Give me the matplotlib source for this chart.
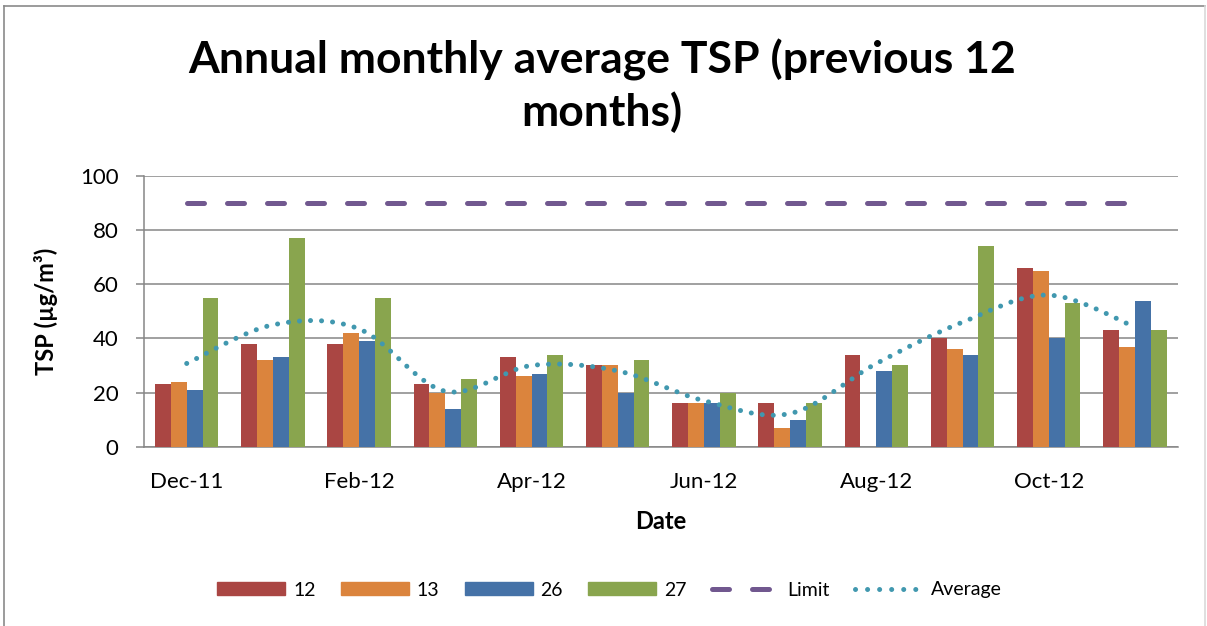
import matplotlib
matplotlib.use("Agg")
import matplotlib.pyplot as plt
import numpy as np
from matplotlib.path import Path
from matplotlib.patches import PathPatch, Patch
from matplotlib.lines import Line2D

# data
months = ['Dec-11', 'Jan-12', 'Feb-12', 'Mar-12', 'Apr-12', 'May-12',
          'Jun-12', 'Jul-12', 'Aug-12', 'Sep-12', 'Oct-12', 'Nov-12']
site_12 = [23, 38, 38, 23, 33, 30, 16, 16, 34, 40, 66, 43]
site_13 = [24, 32, 42, 20, 26, 30, 16, 7, 0, 36, 65, 37]
site_26 = [21, 33, 39, 14, 27, 20, 16, 10, 28, 34, 40, 54]
site_27 = [55, 77, 55, 25, 34, 32, 20, 16, 30, 74, 53, 43]
limit = [90] * 12
average = [30.75, 45, 43.5, 20.5, 30, 28, 17, 12.25, 30.7, 46, 56, 44.25]

plt.rcParams['font.family'] = ['Lato', 'DejaVu Sans']

c_red = '#AA4643'
c_orange = '#DB843D'
c_blue = '#4572A7'
c_green = '#89A54E'
c_limit = '#71588F'
c_avg = '#4198AF'
c_grid = '#868686'


def smooth_path(xs, ys):
    # catmull-rom style bezier, like excel's "smoothed line"
    pts = np.column_stack([xs, ys]).astype(float)
    n = len(pts)
    verts = [pts[0]]
    codes = [Path.MOVETO]
    for i in range(n - 1):
        p0 = pts[i - 1] if i > 0 else pts[i]
        p1 = pts[i]
        p2 = pts[i + 1]
        p3 = pts[i + 2] if i + 2 < n else pts[i + 1]
        verts += [p1 + (p2 - p0) / 6, p2 - (p3 - p1) / 6, p2]
        codes += [Path.CURVE4] * 3
    return Path(verts, codes)


fig = plt.figure(figsize=(12.07, 6.26), dpi=100)
ax = fig.add_axes([143.6 / 1207, 1 - 446.7 / 626, (1178 - 143.6) / 1207, (446.7 - 176) / 626])

x = np.arange(len(months))
w = 0.184
series = [(site_12, c_red, '12'), (site_13, c_orange, '13'),
          (site_26, c_blue, '26'), (site_27, c_green, '27')]
for k, (vals, col, lab) in enumerate(series):
    ax.bar(x + (k - 1.5) * w, vals, width=w, color=col, label=lab, zorder=3)

ax.plot(x, limit, color=c_limit, lw=3.6, ls=(0, (3.4, 4.6)),
        dash_capstyle='round', zorder=4)
avg_patch = PathPatch(smooth_path(x, average), fill=False, edgecolor=c_avg,
                      lw=3.6, ls=(0, (0.01, 2.2)), capstyle='round', zorder=5)
ax.add_patch(avg_patch)

ax.set_xlim(-0.5, len(months) - 0.5)
ax.set_ylim(0, 100)
ax.set_yticks([0, 20, 40, 60, 80, 100])
ax.set_xticks(x[::2])
ax.set_xticklabels(months[::2])
ax.tick_params(axis='x', length=0, pad=18, labelsize=16)
ax.tick_params(axis='y', length=6, width=1.1, color=c_grid, pad=12, labelsize=16)
ax.grid(axis='y', color=c_grid, lw=1.1, zorder=0)
for s in ['top', 'right']:
    ax.spines[s].set_visible(False)
for s in ['left', 'bottom']:
    ax.spines[s].set_color(c_grid)
    ax.spines[s].set_linewidth(1.1)

ax.set_ylabel('TSP (µg/m³)', fontsize=17, fontweight='bold')
ax.yaxis.set_label_coords(-0.083, 0.5)
ax.set_xlabel('Date', fontsize=17, fontweight='bold')
ax.xaxis.set_label_coords(0.5, -0.232)

fig.text(0.499, 1 - 86 / 626, 'Annual monthly average TSP (previous 12\nmonths)',
         ha='center', va='center', fontsize=32, fontweight='bold', linespacing=1.32)

handles = [Patch(color=c_red), Patch(color=c_orange), Patch(color=c_blue), Patch(color=c_green),
           Line2D([], [], color=c_limit, lw=3.6, ls=(0, (3.4, 4.6)), dash_capstyle='round'),
           Line2D([], [], color=c_avg, lw=3.6, ls=(0, (0.01, 2.4)), dash_capstyle='round')]
labels = ['12', '13', '26', '27', 'Limit', 'Average']
fig.legend(handles, labels, loc='center', bbox_to_anchor=(0.505, 1 - 590 / 626), ncol=6,
           frameon=False, fontsize=14, handlelength=3.5, handleheight=0.62,
           columnspacing=1.3, handletextpad=0.4)

# outer chart border
fig.add_artist(Line2D([4 / 1207, 4 / 1207], [0, 1 - 6 / 626], color='#8a8a8a', lw=1.2))
fig.add_artist(Line2D([4 / 1207, 1205 / 1207], [1 - 6 / 626, 1 - 6 / 626], color='#8a8a8a', lw=1.2))
fig.add_artist(Line2D([1205 / 1207, 1205 / 1207], [0, 1 - 6 / 626], color='#d9d9d9', lw=1.2))

fig.savefig('out.png', dpi=100)
